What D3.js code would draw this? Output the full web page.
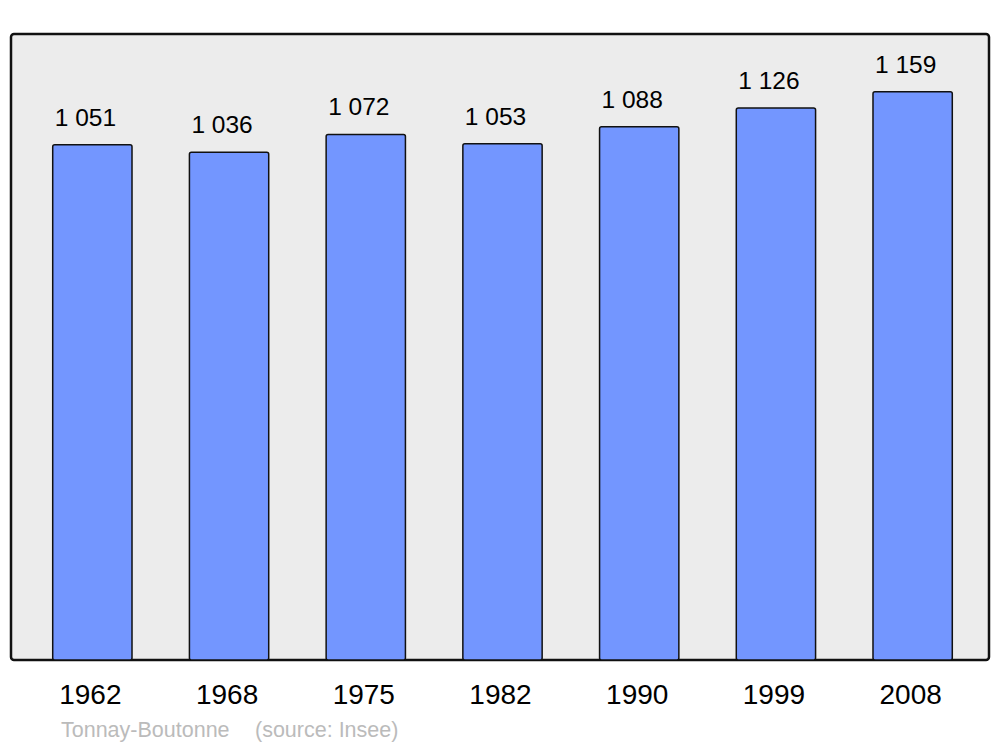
<!DOCTYPE html>
<html>
<head>
<meta charset="utf-8">
<script src="https://cdn.jsdelivr.net/npm/d3@7"></script>
<style>
  body { margin: 0; background: #fff; }
  text { font-family: "Liberation Sans", Arial, sans-serif; }
</style>
</head>
<body>
<div id="chart"></div>
<script>
const years = ["1962", "1968", "1975", "1982", "1990", "1999", "2008"];
const population = [1051, 1036, 1072, 1053, 1088, 1126, 1159];
const valueLabels = ["1 051", "1 036", "1 072", "1 053", "1 088", "1 126", "1 159"];
const commune = "Tonnay-Boutonne";
const source = "(source: Insee)";

const width = 1000;
const height = 747;
const panel = { x: 11, y: 34, w: 978, h: 626 };

const svg = d3.select("#chart")
  .append("svg")
  .attr("width", width)
  .attr("height", height);

// background panel
svg.append("rect")
  .attr("x", panel.x)
  .attr("y", panel.y)
  .attr("width", panel.w)
  .attr("height", panel.h)
  .attr("rx", 3)
  .attr("fill", "#ececec")
  .attr("stroke", "#111")
  .attr("stroke-width", 2.5);

const x = d3.scaleBand()
  .domain(years)
  .range([24, 981])
  .paddingInner(0.42)
  .paddingOuter(0.21);

const y = d3.scaleLinear()
  .domain([0, 1277])
  .range([panel.y + panel.h, panel.y]);

const data = years.map((yr, i) => ({ year: yr, value: population[i], label: valueLabels[i] }));

// bars
svg.selectAll(".bar")
  .data(data)
  .enter()
  .append("rect")
  .attr("class", "bar")
  .attr("x", d => x(d.year))
  .attr("y", d => y(d.value))
  .attr("width", x.bandwidth())
  .attr("height", d => y(0) - y(d.value))
  .attr("rx", 2)
  .attr("fill", "#7396ff")
  .attr("stroke", "#111")
  .attr("stroke-width", 1.5);

// value labels
svg.selectAll(".val")
  .data(data)
  .enter()
  .append("text")
  .attr("class", "val")
  .attr("x", d => x(d.year) + 2)
  .attr("y", d => y(d.value) - 19)
  .style("font-size", "24.5px")
  .attr("fill", "#000")
  .text(d => d.label);

// year labels
svg.selectAll(".yr")
  .data(data)
  .enter()
  .append("text")
  .attr("class", "yr")
  .attr("x", d => x(d.year) + x.bandwidth() / 2 - 2)
  .attr("y", 704)
  .attr("text-anchor", "middle")
  .style("font-size", "28px")
  .attr("fill", "#000")
  .text(d => d.year);

// footer
svg.append("text")
  .attr("x", 61)
  .attr("y", 737)
  .style("font-size", "21.5px")
  .attr("fill", "#bbb")
  .text(commune);

svg.append("text")
  .attr("x", 255)
  .attr("y", 737)
  .style("font-size", "21.5px")
  .attr("fill", "#bbb")
  .text(source);
</script>
</body>
</html>
